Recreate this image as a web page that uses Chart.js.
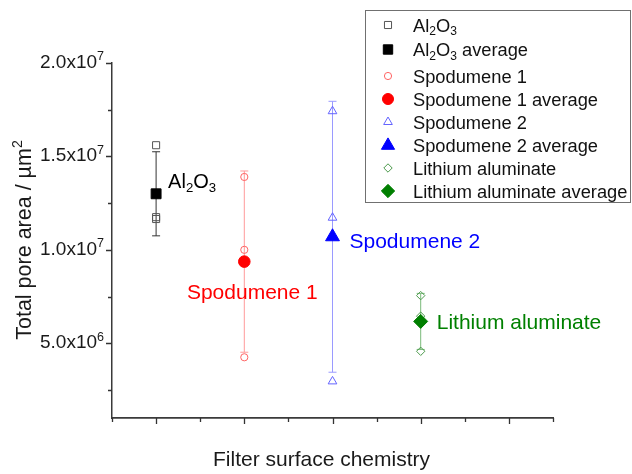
<!DOCTYPE html>
<html>
<head>
<meta charset="utf-8">
<script src="https://cdn.jsdelivr.net/npm/chart.js@4/dist/chart.umd.min.js"></script>
<style>
  html, body { margin: 0; padding: 0; background: #ffffff; }
  canvas { display: block; }
</style>
</head>
<body>
<canvas id="chart" width="632" height="474"></canvas>
<script>
// Filter surface chemistries (x positions 1..4) and measured total pore areas (µm²).
// "_d" in a name marks a subscript digit.
const categoryNames = ['Al_2O_3', 'Spodumene 1', 'Spodumene 2', 'Lithium aluminate'];
const categoryX = [1, 2, 3, 4];

const al2o3Samples      = [1.56e7, 1.175e7, 1.165e7];
const spodumene1Samples = [1.39e7, 1.00e7, 4.25e6];
const spodumene2Samples = [1.742e7, 1.172e7, 2.96e6];
const lithiumSamples    = [7.55e6, 6.45e6, 4.57e6];

const averages = [1.30e7, 9.37e6, 1.07e7, 6.17e6];
const stdDevs  = [2.25e6, 4.85e6, 7.25e6, 1.50e6];

const yMajorTicks = [5e6, 1e7, 1.5e7, 2e7];
const yTickMantissas = ['5.0x10', '1.0x10', '1.5x10', '2.0x10'];
const yTickExponents = ['6', '7', '7', '7'];
const yMinorTicks = [2.5e6, 7.5e6, 1.25e7, 1.75e7];
const xMajorTicks = [1, 2, 3, 4, 5];
const xMinorTicks = [0.5, 1.5, 2.5, 3.5, 4.5, 5.5];

const sampleSets = [al2o3Samples, spodumene1Samples, spodumene2Samples, lithiumSamples];

// Per-series look
const looks = [
  { shape: 'rect',     hollow: '#555555', avg: '#000000', err: '#333333', text: '#000000', rHollow: 5,   rAvg: 7   },
  { shape: 'circle',   hollow: '#ff6464', avg: '#ff0000', err: '#ff9a9a', text: '#ff0000', rHollow: 3.6, rAvg: 5.8 },
  { shape: 'triangle', hollow: '#6464ff', avg: '#0000ff', err: '#9a9aff', text: '#0000ff', rHollow: 5,   rAvg: 8   },
  { shape: 'rectRot',  hollow: '#4c9a4c', avg: '#007f00', err: '#7aba7a', text: '#008000', rHollow: 4.2, rAvg: 7   }
];

const FONT = '"Liberation Sans", Arial, Helvetica, sans-serif';

const datasets = [];
categoryNames.forEach((name, i) => {
  const lk = looks[i];
  datasets.push({
    label: name + ' average',
    data: [{ x: categoryX[i], y: averages[i] }],
    pointStyle: lk.shape,
    pointRadius: lk.rAvg,
    backgroundColor: lk.avg,
    borderColor: lk.avg,
    borderWidth: 1,
    showLine: false,
    order: 0
  });
  datasets.push({
    label: name,
    data: sampleSets[i].map(v => ({ x: categoryX[i], y: v })),
    pointStyle: lk.shape,
    pointRadius: lk.rHollow,
    backgroundColor: 'rgba(0,0,0,0)',
    borderColor: lk.hollow,
    borderWidth: 1,
    showLine: false,
    order: 1
  });
});

// Split "Al_2O_3" into normal / subscript runs
function parseRich(str) {
  const segs = [];
  for (let i = 0; i < str.length; i++) {
    if (str[i] === '_' && i + 1 < str.length) {
      segs.push({ t: str[i + 1], sub: true });
      i++;
    } else {
      const last = segs[segs.length - 1];
      if (last && !last.sub && !last.sup) last.t += str[i];
      else segs.push({ t: str[i] });
    }
  }
  return segs;
}

function richWidth(ctx, segs, size) {
  let w = 0;
  segs.forEach(s => {
    const fs = (s.sub || s.sup) ? size * 0.66 : size;
    ctx.font = fs + 'px ' + FONT;
    w += ctx.measureText(s.t).width;
  });
  return w;
}

function drawRich(ctx, segs, x, baseline, size, color, align) {
  const w = richWidth(ctx, segs, size);
  let cx = align === 'right' ? x - w : align === 'center' ? x - w / 2 : x;
  ctx.fillStyle = color;
  ctx.textBaseline = 'alphabetic';
  ctx.textAlign = 'left';
  segs.forEach(s => {
    const small = s.sub || s.sup;
    const fs = small ? size * 0.66 : size;
    ctx.font = fs + 'px ' + FONT;
    const dy = s.sub ? size * 0.2 : s.sup ? -size * 0.4 : 0;
    ctx.fillText(s.t, cx, baseline + dy);
    cx += ctx.measureText(s.t).width;
  });
}

function drawMarker(ctx, shape, x, y, r, fill, stroke) {
  ctx.beginPath();
  if (shape === 'circle') {
    ctx.arc(x, y, r, 0, Math.PI * 2);
  } else if (shape === 'rect') {
    const s = r * Math.SQRT1_2;
    ctx.rect(x - s, y - s, 2 * s, 2 * s);
  } else if (shape === 'triangle') {
    let a = 0;
    ctx.moveTo(x + Math.sin(a) * r, y - Math.cos(a) * r);
    a += 2 * Math.PI / 3;
    ctx.lineTo(x + Math.sin(a) * r, y - Math.cos(a) * r);
    a += 2 * Math.PI / 3;
    ctx.lineTo(x + Math.sin(a) * r, y - Math.cos(a) * r);
    ctx.closePath();
  } else {
    ctx.moveTo(x - r, y);
    ctx.lineTo(x, y - r);
    ctx.lineTo(x + r, y);
    ctx.lineTo(x, y + r);
    ctx.closePath();
  }
  if (fill) { ctx.fillStyle = fill; ctx.fill(); }
  if (stroke) { ctx.strokeStyle = stroke; ctx.lineWidth = 1; ctx.stroke(); }
}

const decorations = {
  id: 'decorations',
  beforeDatasetsDraw(chart) {
    const ctx = chart.ctx;
    const xs = chart.scales.x, ys = chart.scales.y;
    ctx.save();
    averages.forEach((m, i) => {
      const px = xs.getPixelForValue(categoryX[i]);
      const top = ys.getPixelForValue(m + stdDevs[i]);
      const bot = ys.getPixelForValue(m - stdDevs[i]);
      ctx.strokeStyle = looks[i].err;
      ctx.lineWidth = 1;
      ctx.beginPath();
      ctx.moveTo(px, top); ctx.lineTo(px, bot);
      ctx.moveTo(px - 4, top); ctx.lineTo(px + 4, top);
      ctx.moveTo(px - 4, bot); ctx.lineTo(px + 4, bot);
      ctx.stroke();
    });
    ctx.restore();
  },
  afterDraw(chart) {
    const ctx = chart.ctx;
    const xs = chart.scales.x, ys = chart.scales.y;
    const area = chart.chartArea;
    ctx.save();

    // Outward tick marks
    ctx.strokeStyle = '#333333';
    ctx.lineWidth = 1.3;
    ctx.beginPath();
    yMajorTicks.forEach(v => { const p = Math.round(ys.getPixelForValue(v)) + 0.5; ctx.moveTo(area.left, p); ctx.lineTo(area.left - 6, p); });
    yMinorTicks.forEach(v => { const p = Math.round(ys.getPixelForValue(v)) + 0.5; ctx.moveTo(area.left, p); ctx.lineTo(area.left - 4, p); });
    xMajorTicks.forEach(v => { const p = Math.round(xs.getPixelForValue(v)) + 0.5; ctx.moveTo(p, area.bottom); ctx.lineTo(p, area.bottom + 6); });
    xMinorTicks.forEach(v => { const p = Math.round(xs.getPixelForValue(v)) + 0.5; ctx.moveTo(p, area.bottom); ctx.lineTo(p, area.bottom + 4); });
    ctx.stroke();

    // Y tick labels in scientific notation
    yMajorTicks.forEach((v, i) => {
      const p = ys.getPixelForValue(v);
      drawRich(ctx, [{ t: yTickMantissas[i] }, { t: yTickExponents[i], sup: true }], 104, p + 5, 19, '#1a1a1a', 'right');
    });

    // Axis titles
    drawRich(ctx, [{ t: 'Filter surface chemistry' }], (area.left + area.right) / 2 - 11, 466, 21, '#1a1a1a', 'center');
    ctx.save();
    ctx.translate(31, 240);
    ctx.rotate(-Math.PI / 2);
    drawRich(ctx, [{ t: 'Total pore area / µm' }, { t: '2', sup: true }], 0, 0, 21.5, '#1a1a1a', 'center');
    ctx.restore();

    // Labels beside each average marker
    const offsets = [
      { dx: 12, dy: -6, align: 'left', size: 20 },
      { dx: 8, dy: 37, align: 'center', size: 21 },
      { dx: 17, dy: 11, align: 'left', size: 21 },
      { dx: 16, dy: 8, align: 'left', size: 21 }
    ];
    categoryNames.forEach((name, i) => {
      const px = xs.getPixelForValue(categoryX[i]);
      const py = ys.getPixelForValue(averages[i]);
      const o = offsets[i];
      drawRich(ctx, parseRich(name), px + o.dx, py + o.dy, o.size, looks[i].text, o.align);
    });

    // Legend box
    ctx.fillStyle = '#ffffff';
    ctx.fillRect(365.5, 10.5, 265, 192);
    ctx.strokeStyle = '#707070';
    ctx.lineWidth = 1;
    ctx.strokeRect(365.5, 10.5, 265, 192);
    const rowY = [25, 49.5, 76, 99, 122, 145.5, 168, 191];
    let row = 0;
    categoryNames.forEach((name, i) => {
      const lk = looks[i];
      const y1 = rowY[row++];
      drawMarker(ctx, lk.shape, 388, y1, lk.rHollow, null, lk.hollow);
      drawRich(ctx, parseRich(name), 413, y1 + 6.5, 18.3, '#111111', 'left');
      const y2 = rowY[row++];
      drawMarker(ctx, lk.shape, 388, y2, lk.rAvg * 0.95, lk.avg, lk.avg);
      drawRich(ctx, parseRich(name + ' average'), 413, y2 + 6.5, 18.3, '#111111', 'left');
    });

    ctx.restore();
  }
};

new Chart(document.getElementById('chart'), {
  type: 'scatter',
  data: { datasets },
  options: {
    responsive: false,
    animation: false,
    events: [],
    layout: { padding: { top: 63, right: 79, left: 0, bottom: 0 } },
    plugins: { legend: { display: false }, tooltip: { enabled: false } },
    scales: {
      x: {
        type: 'linear',
        min: 0.5,
        max: 5.5,
        ticks: { display: false },
        grid: { display: true, drawOnChartArea: false, drawTicks: false },
        border: { display: true, color: '#3a3a3a', width: 1.8 },
        afterFit(scale) { scale.height = 56; }
      },
      y: {
        type: 'linear',
        min: 1e6,
        max: 2e7,
        ticks: { display: false },
        grid: { display: true, drawOnChartArea: false, drawTicks: false },
        border: { display: true, color: '#3a3a3a', width: 1.5 },
        afterFit(scale) { scale.width = 112; }
      }
    }
  },
  plugins: [decorations]
});
</script>
</body>
</html>
